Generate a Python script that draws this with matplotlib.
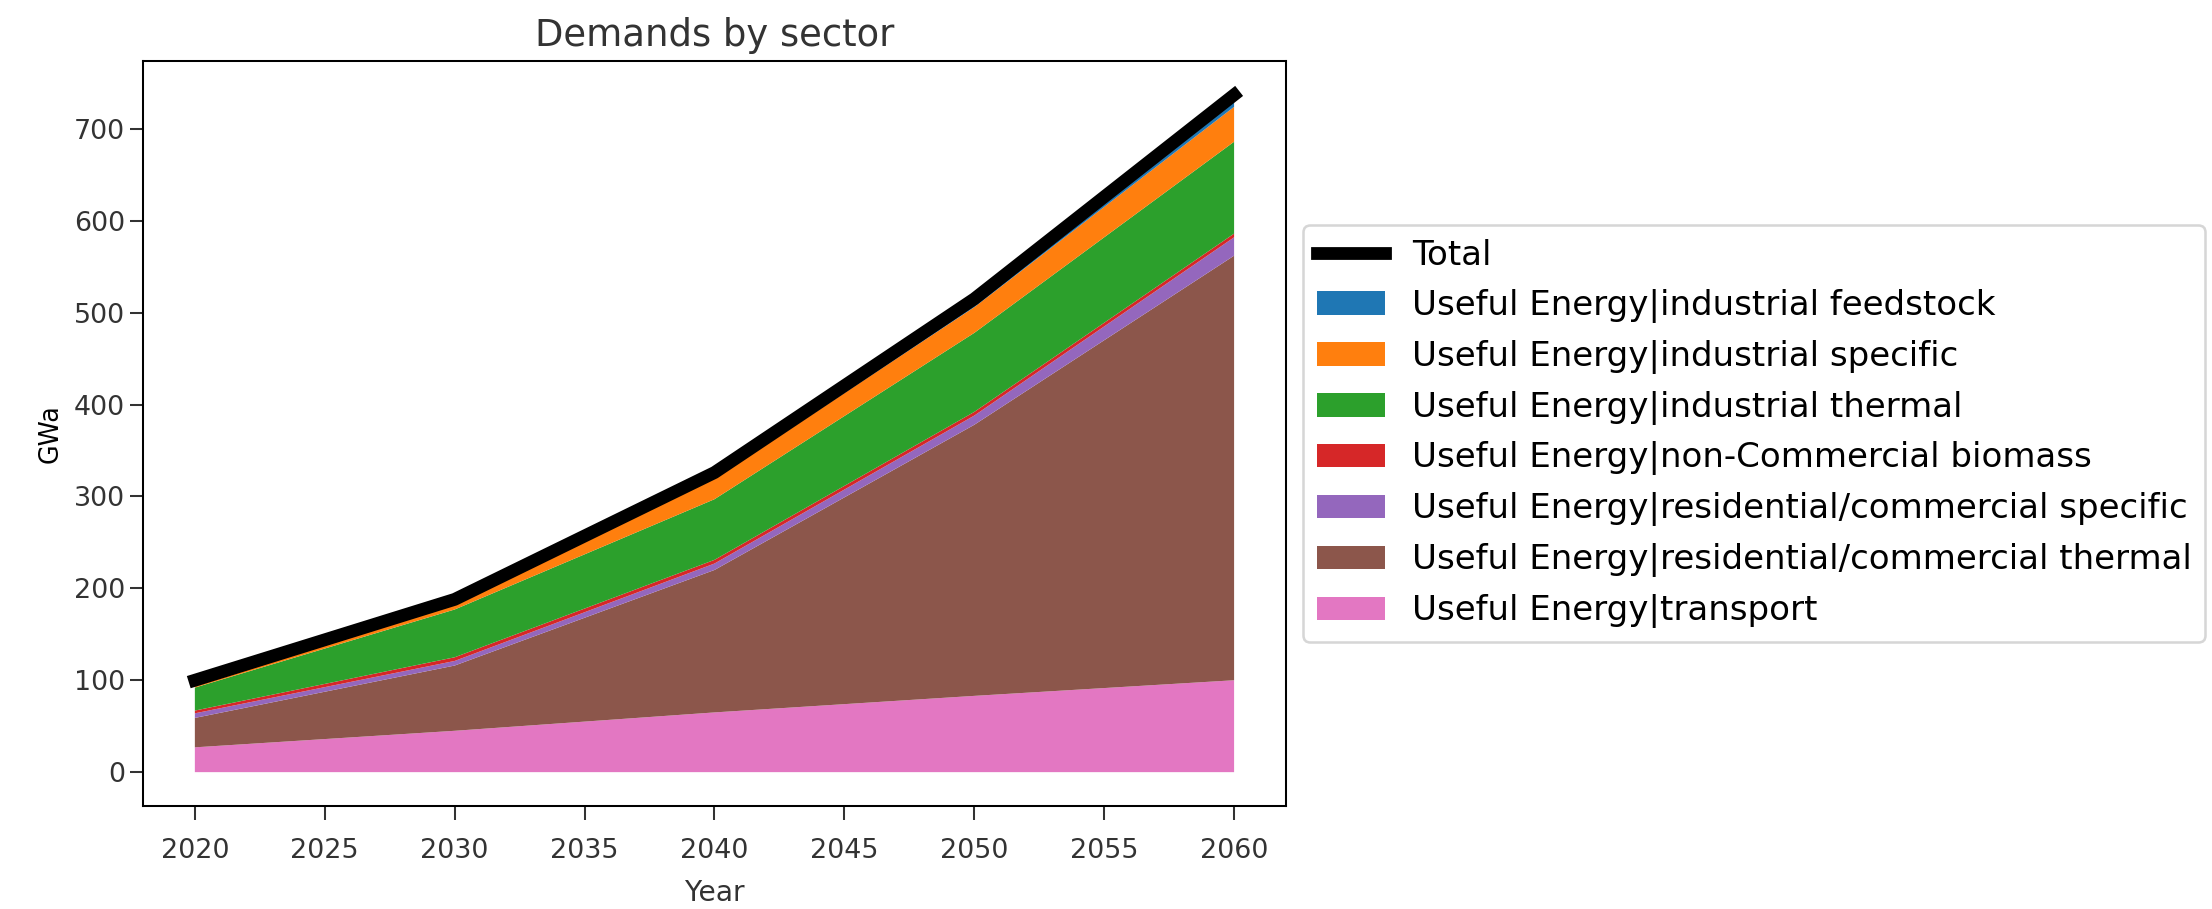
import matplotlib
matplotlib.use("Agg")
import matplotlib.pyplot as plt
import numpy as np

years = [2020, 2030, 2040, 2050, 2060]

# stacked from the bottom up
transport = [27, 45, 65, 83, 100]
res_thermal = [32, 71, 155, 295, 462]
res_specific = [5, 5, 7, 10, 20]
biomass = [3, 4, 4, 4, 4]
ind_thermal = [25, 52, 66, 86, 100]
ind_specific = [7, 8, 22, 28, 38]
ind_feedstock = [1, 3, 7, 9, 13]

labels = ["Useful Energy|transport",
          "Useful Energy|residential/commercial thermal",
          "Useful Energy|residential/commercial specific",
          "Useful Energy|non-Commercial biomass",
          "Useful Energy|industrial thermal",
          "Useful Energy|industrial specific",
          "Useful Energy|industrial feedstock"]
colors = ['#e377c2', '#8c564b', '#9467bd', '#d62728', '#2ca02c', '#ff7f0e', '#1f77b4']

series = [transport, res_thermal, res_specific, biomass,
          ind_thermal, ind_specific, ind_feedstock]
total = np.sum(series, axis=0)

fig = plt.figure(figsize=(2212/184, 909/184), dpi=184)
ax = fig.add_axes([0.0646, 0.1133, 0.5168, 0.8196])

areas = ax.stackplot(years, *series, labels=labels, colors=colors, lw=0)
line, = ax.plot(years, total, color='black', lw=5, label='Total')
ax.set_ylim(-0.05 * total.max(), 1.05 * total.max())

handles = [line] + areas[::-1]
ax.legend(handles=handles, labels=['Total'] + labels[::-1],
          loc='center left', bbox_to_anchor=(1, 0.5), fontsize=13.3)

ax.tick_params(axis='x', length=5.5, pad=7)
ax.tick_params(axis='y', length=5, pad=2)
ax.tick_params(colors='#333333', labelsize=10.5)
ax.set_title('Demands by sector', fontsize=14.5, color='#333333')
ax.set_xlabel('Year', fontsize=11, color='#333333', labelpad=6)
ax.set_ylabel('GWa')

fig.savefig('out.png', dpi=184)
